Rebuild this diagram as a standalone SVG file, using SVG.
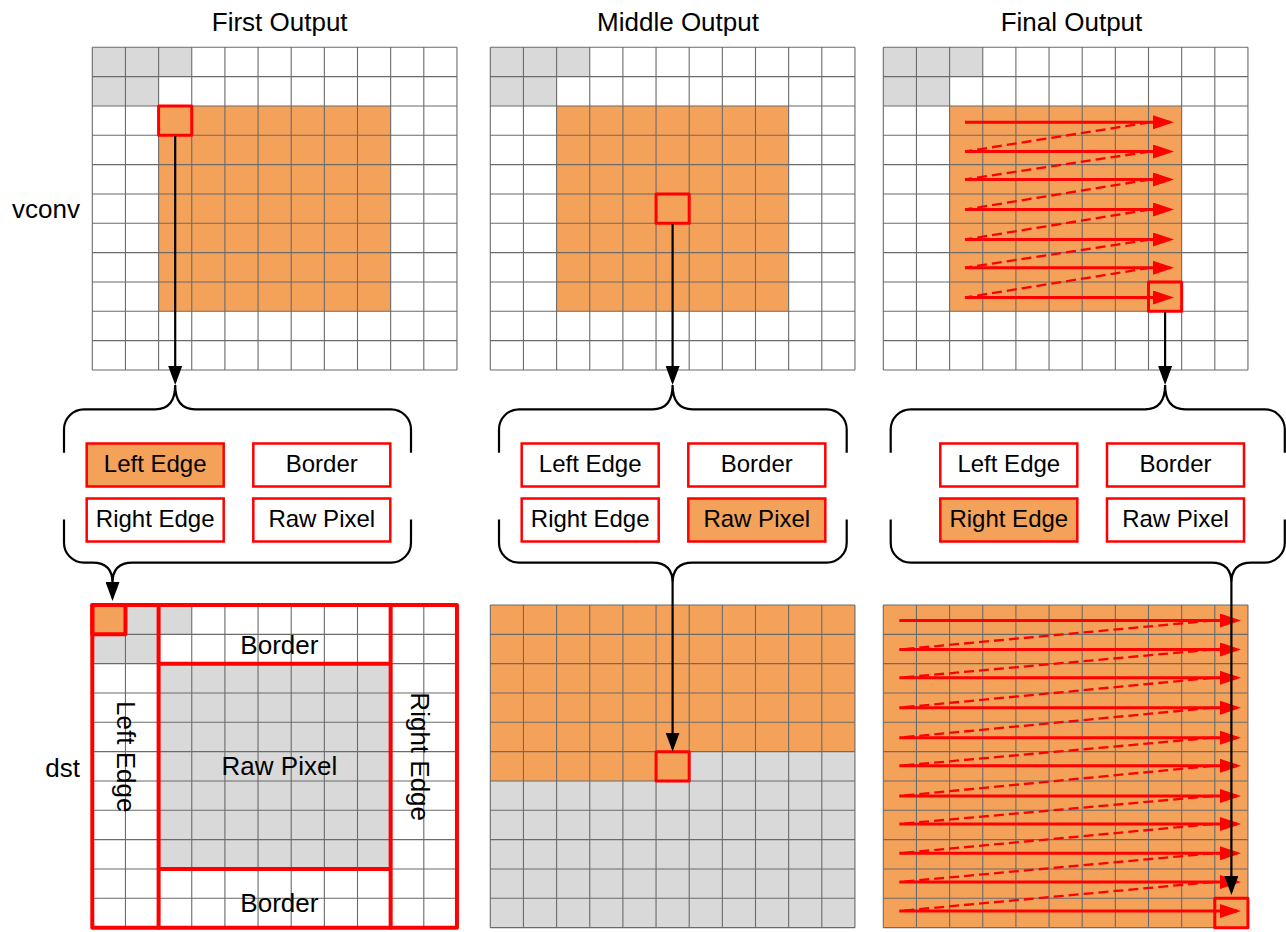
<svg xmlns="http://www.w3.org/2000/svg" xmlns:xlink="http://www.w3.org/1999/xlink" width="1286" height="932" viewBox="0 0 1286 932">
<style>
text{font-family:"Liberation Sans",Arial,sans-serif;fill:#000}
.title{font-size:26px;text-anchor:middle}
.side{font-size:26px;text-anchor:end}
.lbl{font-size:26px;text-anchor:middle}
.btxt{font-size:24px;text-anchor:middle}
.bg{fill:#fff}
.gr{fill:#d9d9d9}
.or{fill:#f4a15a}
.gl{fill:none;stroke:#6b6b6b;stroke-width:1.1}
.hl{fill:none;stroke:#ff0000;stroke-width:3;stroke-linejoin:round}
.rl{fill:none;stroke:#ff0000;stroke-width:4;stroke-linejoin:round;stroke-linecap:round}
.box{fill:#fff;stroke:#ff0000;stroke-width:2.5}
.boxo{fill:#f4a15a;stroke:#ff0000;stroke-width:2.5}
.brace{fill:none;stroke:#000;stroke-width:2.2}
.arr{fill:none;stroke:#000;stroke-width:2.2;marker-end:url(#ah)}
.sarr{fill:none;stroke:#ff0000;stroke-width:3;marker-end:url(#rh)}
.dash{fill:none;stroke:#ff0000;stroke-width:2.3;stroke-dasharray:10 5}
</style>
<defs>
<marker id="ah" markerUnits="userSpaceOnUse" markerWidth="19" markerHeight="14" refX="16" refY="7" orient="auto"><path d="M0,0 L19,7 L0,14 z" fill="#000"/></marker>
<marker id="rh" markerUnits="userSpaceOnUse" markerWidth="21" markerHeight="14" refX="17" refY="7" orient="auto"><path d="M0,0 L21,7 L0,14 z" fill="#ff0000"/></marker>
<path id="gridlines" class="gl" d="M0 0V322.63M33.15 0V322.63M66.3 0V322.63M99.45 0V322.63M132.6 0V322.63M165.75 0V322.63M198.9 0V322.63M232.05 0V322.63M265.2 0V322.63M298.35 0V322.63M331.5 0V322.63M364.65 0V322.63M0 0H364.65M0 29.33H364.65M0 58.66H364.65M0 87.99H364.65M0 117.32H364.65M0 146.65H364.65M0 175.98H364.65M0 205.31H364.65M0 234.64H364.65M0 263.97H364.65M0 293.3H364.65M0 322.63H364.65"/>
<g id="topfill">
<rect class="bg" x="0" y="0" width="364.65" height="322.63"/>
<rect class="gr" x="0" y="0" width="99.45" height="29.33"/>
<rect class="gr" x="0" y="29.33" width="66.3" height="29.33"/>
<rect class="or" x="66.3" y="58.66" width="232.05" height="205.31"/>
</g>
</defs>

<g id="titles">
<text class="title" x="279.7" y="31">First Output</text>
<text class="title" x="678" y="31">Middle Output</text>
<text class="title" x="1071.5" y="31">Final Output</text>
<text class="side" x="80" y="218.3">vconv</text>
<text class="side" x="80" y="777">dst</text>
</g>

<g id="vconv-first" transform="translate(92.3,47.3)">
<use xlink:href="#topfill"/>
<use xlink:href="#gridlines"/>
<rect class="hl" x="66.3" y="58.66" width="33.15" height="29.33"/>
</g>

<g id="vconv-middle" transform="translate(490.3,47.3)">
<use xlink:href="#topfill"/>
<use xlink:href="#gridlines"/>
<rect class="hl" x="165.75" y="146.65" width="33.15" height="29.33"/>
</g>

<g id="vconv-final" transform="translate(883.3,47.3)">
<use xlink:href="#topfill"/>
<use xlink:href="#gridlines"/>
<rect class="hl" x="265.2" y="234.64" width="33.15" height="29.33"/>
</g>

<g id="vconv-final-scan">
<path class="dash" d="M1150 122.3L965 151.5M1150 151.5L965 179.5M1150 179.5L965 209.5M1150 209.5L965 239.5M1150 239.5L965 267.8M1150 267.8L965 297.5"/>
<path class="sarr" d="M965 122.3H1170"/>
<path class="sarr" d="M965 151.5H1170"/>
<path class="sarr" d="M965 179.5H1170"/>
<path class="sarr" d="M965 209.5H1170"/>
<path class="sarr" d="M965 239.5H1170"/>
<path class="sarr" d="M965 267.8H1170"/>
<path class="sarr" d="M965 297.5H1170"/>
</g>

<g id="dst-first" transform="translate(92.3,605)">
<rect class="bg" x="0" y="0" width="364.65" height="322.63"/>
<rect class="gr" x="33.15" y="0" width="66.3" height="29.33"/>
<rect class="gr" x="0" y="29.33" width="66.3" height="29.33"/>
<rect class="gr" x="66.3" y="58.66" width="232.05" height="205.31"/>
<rect class="or" x="0" y="0" width="33.15" height="29.33"/>
<use xlink:href="#gridlines"/>
<rect class="rl" x="0" y="0" width="364.65" height="322.63"/>
<path class="rl" d="M66.3 0V322.63M298.35 0V322.63M66.3 58.66H298.35M66.3 263.97H298.35"/>
<rect class="rl" x="0" y="0" width="33.15" height="29.33"/>
<text class="lbl" x="187.1" y="49.3">Border</text>
<text class="lbl" x="187.1" y="170">Raw Pixel</text>
<text class="lbl" x="187.1" y="306.7">Border</text>
<text class="lbl" transform="translate(24.2,151.7) rotate(90)">Left Edge</text>
<text class="lbl" transform="translate(319.1,151.7) rotate(90)">Right Edge</text>
</g>

<g id="dst-middle" transform="translate(490.3,605)">
<rect class="or" x="0" y="0" width="364.65" height="146.65"/>
<rect class="or" x="0" y="146.65" width="198.9" height="29.33"/>
<rect class="gr" x="198.9" y="146.65" width="165.75" height="29.33"/>
<rect class="gr" x="0" y="175.98" width="364.65" height="146.65"/>
<use xlink:href="#gridlines"/>
<rect class="hl" x="165.75" y="146.65" width="33.15" height="29.33"/>
</g>

<g id="dst-final" transform="translate(883.3,605)">
<rect class="or" x="0" y="0" width="364.65" height="322.63"/>
<use xlink:href="#gridlines"/>
<rect class="hl" x="331.5" y="293.3" width="33.15" height="29.33"/>
</g>

<g id="dst-final-scan">
<path class="dash" d="M1213 620.5L899.3 649.5M1213 649.5L899.3 677.8M1213 677.8L899.3 707.7M1213 707.7L899.3 737.7M1213 737.7L899.3 765.8M1213 765.8L899.3 796M1213 796L899.3 824M1213 824L899.3 853.3M1213 853.3L899.3 882M1213 882L899.3 911"/>
<path class="sarr" d="M899.3 620.5H1237"/>
<path class="sarr" d="M899.3 649.5H1237"/>
<path class="sarr" d="M899.3 677.8H1237"/>
<path class="sarr" d="M899.3 707.7H1237"/>
<path class="sarr" d="M899.3 737.7H1237"/>
<path class="sarr" d="M899.3 765.8H1237"/>
<path class="sarr" d="M899.3 796H1237"/>
<path class="sarr" d="M899.3 824H1237"/>
<path class="sarr" d="M899.3 853.3H1237"/>
<path class="sarr" d="M899.3 882H1237"/>
<path class="sarr" d="M899.3 911H1237"/>
</g>

<g id="selector-first">
<path class="brace" d="M64 452.7V429.3A20 20 0 0 1 84 409.3H155.2Q175.2 409.3 175.2 385Q175.2 409.3 195.2 409.3H391A20 20 0 0 1 411 429.3V452.7"/>
<path class="brace" d="M64 519.5V542.7A20 20 0 0 0 84 562.7H92.5Q112.5 562.7 112.5 583Q112.5 562.7 132.5 562.7H391A20 20 0 0 0 411 542.7V519.5"/>
<rect class="boxo" x="86.7" y="443.5" width="137" height="43"/>
<text class="btxt" x="155.2" y="472">Left Edge</text>
<rect class="box" x="253.3" y="443.5" width="137" height="43"/>
<text class="btxt" x="321.8" y="472">Border</text>
<rect class="box" x="86.7" y="498.5" width="137" height="43"/>
<text class="btxt" x="155.2" y="527">Right Edge</text>
<rect class="box" x="253.3" y="498.5" width="137" height="43"/>
<text class="btxt" x="321.8" y="527">Raw Pixel</text>
</g>

<g id="selector-middle">
<path class="brace" d="M499 452.7V429.3A20 20 0 0 1 519 409.3H652.6Q672.6 409.3 672.6 385Q672.6 409.3 692.6 409.3H826.7A20 20 0 0 1 846.7 429.3V452.7"/>
<path class="brace" d="M499 519.5V542.7A20 20 0 0 0 519 562.7H652.6Q672.6 562.7 672.6 583Q672.6 562.7 692.6 562.7H826.7A20 20 0 0 0 846.7 542.7V519.5"/>
<rect class="box" x="521.7" y="443.5" width="137" height="43"/>
<text class="btxt" x="590.2" y="472">Left Edge</text>
<rect class="box" x="688.3" y="443.5" width="137" height="43"/>
<text class="btxt" x="756.8" y="472">Border</text>
<rect class="box" x="521.7" y="498.5" width="137" height="43"/>
<text class="btxt" x="590.2" y="527">Right Edge</text>
<rect class="boxo" x="688.3" y="498.5" width="137" height="43"/>
<text class="btxt" x="756.8" y="527">Raw Pixel</text>
</g>

<g id="selector-final">
<path class="brace" d="M890.7 452.7V429.3A20 20 0 0 1 910.7 409.3H1145.1Q1165.1 409.3 1165.1 385Q1165.1 409.3 1185.1 409.3H1264.8A20 20 0 0 1 1284.8 429.3V452.7"/>
<path class="brace" d="M890.7 519.5V542.7A20 20 0 0 0 910.7 562.7H1211.4Q1231.4 562.7 1231.4 583Q1231.4 562.7 1251.4 562.7H1264.8A20 20 0 0 0 1284.8 542.7V519.5"/>
<rect class="box" x="940.3" y="443.5" width="137" height="43"/>
<text class="btxt" x="1008.8" y="472">Left Edge</text>
<rect class="box" x="1107" y="443.5" width="137" height="43"/>
<text class="btxt" x="1175.5" y="472">Border</text>
<rect class="boxo" x="940.3" y="498.5" width="137" height="43"/>
<text class="btxt" x="1008.8" y="527">Right Edge</text>
<rect class="box" x="1107" y="498.5" width="137" height="43"/>
<text class="btxt" x="1175.5" y="527">Raw Pixel</text>
</g>

<g id="connectors">
<path class="arr" d="M175.2 136V382"/>
<path class="arr" d="M672.6 224V382"/>
<path class="arr" d="M1165.1 312V382"/>
<path class="arr" d="M112.5 582V598"/>
<path class="arr" d="M672.6 583V748.6"/>
<path class="arr" d="M1231.4 583V892"/>
</g>
</svg>
